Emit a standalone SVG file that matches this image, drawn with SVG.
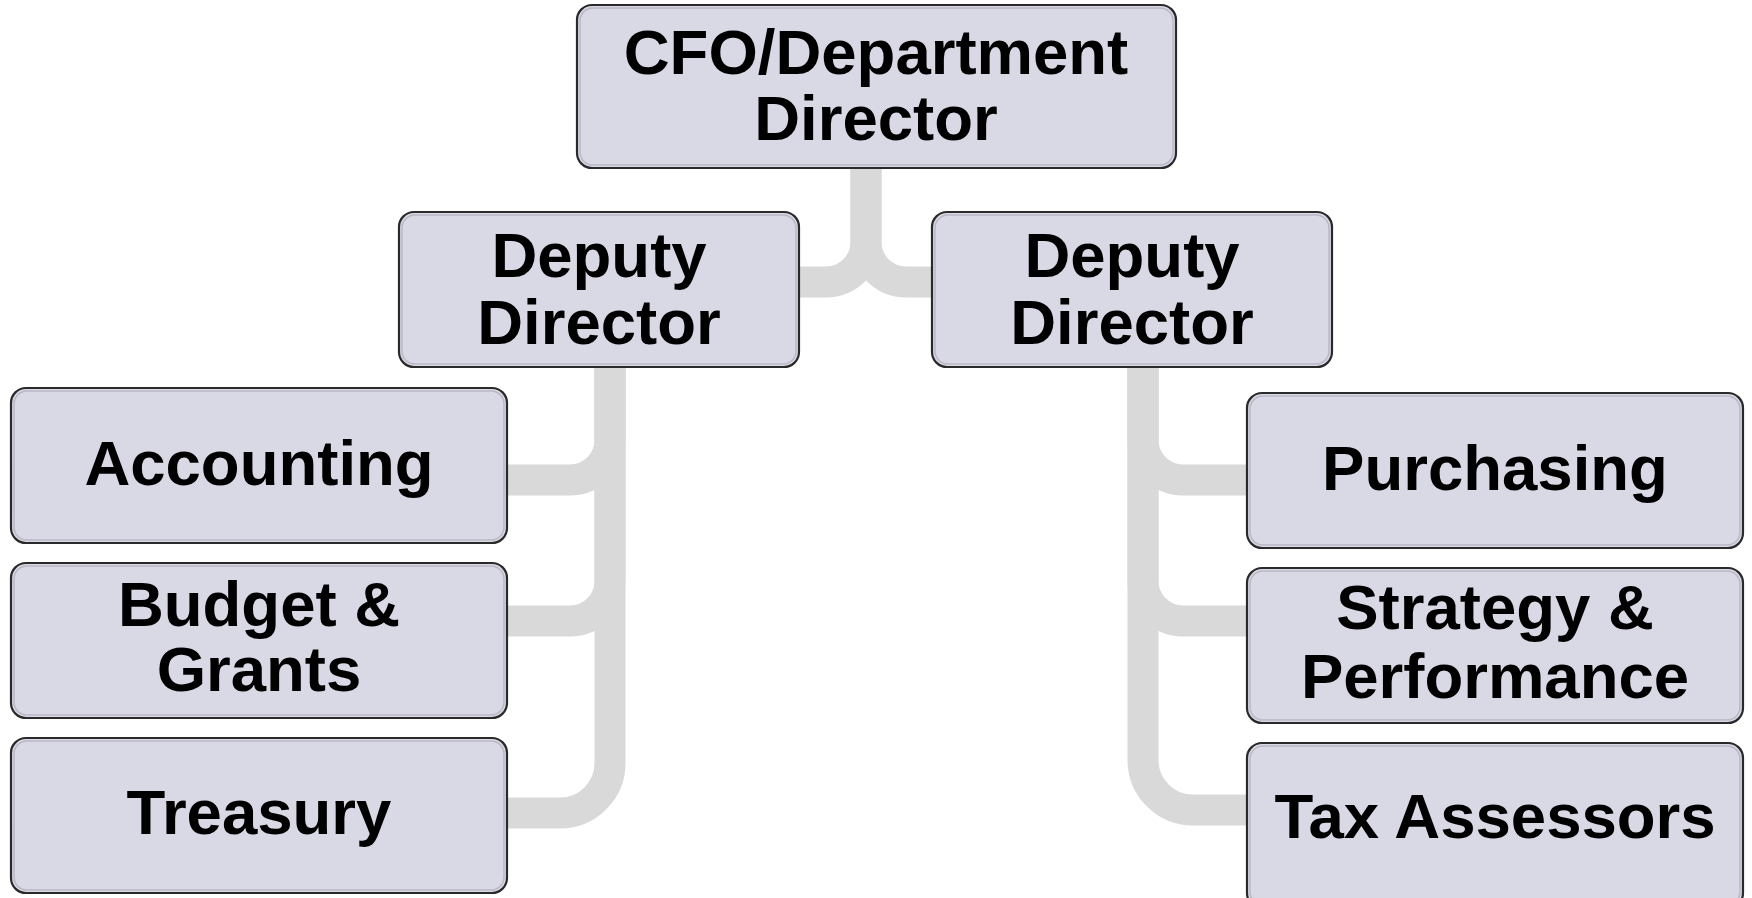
<svg xmlns="http://www.w3.org/2000/svg" width="1752" height="898" viewBox="0 0 1752 898">
<defs>
<style>
.box{fill:#d9d8e5;stroke:#2a2a2a;stroke-width:2.2}
.inner{fill:none;stroke:#b9b8c4;stroke-width:1.5}
.lbl{font-family:"Liberation Sans",Arial,sans-serif;font-weight:bold;font-size:63.5px;fill:#000;text-anchor:middle}
.con{fill:none;stroke:#d9d9d9;stroke-width:31}
</style>
</defs>
<rect width="1752" height="898" fill="#ffffff"/>
<g id="connectors">
<path class="con" d="M866,160 V242 A40,40 0 0 1 826,282 H790"/>
<path class="con" d="M866,160 V242 A40,40 0 0 0 906,282 H940"/>
<path class="con" d="M610,360 V440 A40,40 0 0 1 570,480 H500"/>
<path class="con" d="M610,360 V581 A40,40 0 0 1 570,621 H500"/>
<path class="con" d="M610,360 V763 A50,50 0 0 1 560,813 H500"/>
<path class="con" d="M1143,360 V440 A40,40 0 0 0 1183,480 H1255"/>
<path class="con" d="M1143,360 V581 A40,40 0 0 0 1183,621 H1255"/>
<path class="con" d="M1143,360 V760 A50,50 0 0 0 1193,810 H1255"/>
</g>
<g id="cfo">
<rect class="box" x="577" y="5" width="599" height="163" rx="15"/>
<rect class="inner" x="580" y="8" width="593" height="157" rx="13"/>
<text class="lbl" x="876" y="74">CFO/Department</text>
<text class="lbl" x="876" y="140">Director</text>
</g>
<g id="deputy-left">
<rect class="box" x="399" y="212" width="400" height="155" rx="15"/>
<rect class="inner" x="402" y="215" width="394" height="149" rx="13"/>
<text class="lbl" x="599" y="277">Deputy</text>
<text class="lbl" x="599" y="344">Director</text>
</g>
<g id="deputy-right">
<rect class="box" x="932" y="212" width="400" height="155" rx="15"/>
<rect class="inner" x="935" y="215" width="394" height="149" rx="13"/>
<text class="lbl" x="1132" y="277">Deputy</text>
<text class="lbl" x="1132" y="344">Director</text>
</g>
<g id="accounting">
<rect class="box" x="11" y="388" width="496" height="155" rx="15"/>
<rect class="inner" x="14" y="391" width="490" height="149" rx="13"/>
<text class="lbl" x="259" y="485">Accounting</text>
</g>
<g id="budget">
<rect class="box" x="11" y="563" width="496" height="155" rx="15"/>
<rect class="inner" x="14" y="566" width="490" height="149" rx="13"/>
<text class="lbl" x="259" y="626">Budget &amp;</text>
<text class="lbl" x="259" y="691">Grants</text>
</g>
<g id="treasury">
<rect class="box" x="11" y="738" width="496" height="155" rx="15"/>
<rect class="inner" x="14" y="741" width="490" height="149" rx="13"/>
<text class="lbl" x="259" y="834">Treasury</text>
</g>
<g id="purchasing">
<rect class="box" x="1247" y="393" width="496" height="155" rx="15"/>
<rect class="inner" x="1250" y="396" width="490" height="149" rx="13"/>
<text class="lbl" x="1495" y="490">Purchasing</text>
</g>
<g id="strategy">
<rect class="box" x="1247" y="568" width="496" height="155" rx="15"/>
<rect class="inner" x="1250" y="571" width="490" height="149" rx="13"/>
<text class="lbl" x="1495" y="629">Strategy &amp;</text>
<text class="lbl" x="1495" y="698">Performance</text>
</g>
<g id="tax">
<rect class="box" x="1247" y="743" width="496" height="165" rx="15"/>
<rect class="inner" x="1250" y="746" width="490" height="159" rx="13"/>
<text class="lbl" x="1495" y="838">Tax Assessors</text>
</g>
</svg>
